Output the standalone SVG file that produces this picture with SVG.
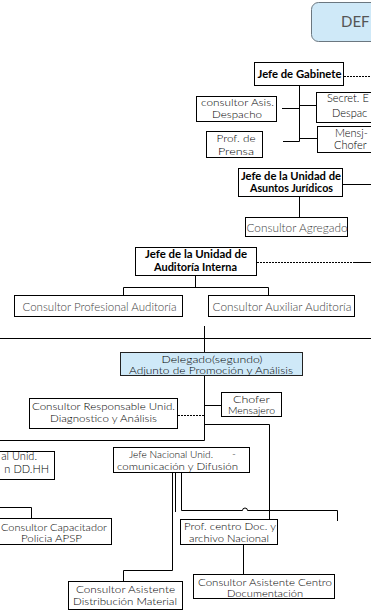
<svg xmlns="http://www.w3.org/2000/svg" width="371" height="614" viewBox="0 0 371 614">
<style>
  .box{fill:#fff;stroke:#000;stroke-width:1}
  .blue{fill:#cfe9f8;stroke:#222;stroke-width:1}
  .t{font-family:Lato,"Liberation Sans",sans-serif;font-size:10.5px;font-weight:300;fill:#000;text-anchor:middle}
  .g{fill:#444}
  .b{font-weight:bold;fill:#000}
  .k{fill:#000;font-weight:300}
  .ln{fill:none;stroke:#000;stroke-width:1}
  .dot{fill:none;stroke:#000;stroke-width:1;stroke-dasharray:2 1}
</style>
<rect width="371" height="614" fill="#fff"/>

<g id="connectors">
  <path class="dot" d="M344 76.5H371"/>
  <path class="ln" d="M299.5 86V141.5M282 108.5H299.5M299.5 105.5H316M283 141.5H299.5M299.5 138.5H317"/>
  <path class="ln" d="M343 184.5H371M299.5 197V217"/>
  <path class="dot" d="M257 262.5H355"/>
  <path class="ln" d="M355 262.5H371M195.5 276V287.5M123.5 287.5H268.5M123.5 287.5V295M268.5 287.5V295"/>
  <path class="ln" d="M0 338.5H371M204.5 326V352"/>
  <path class="ln" stroke-width="1.4" d="M204.5 376V440.5"/>
  <path class="dot" d="M178 415.5H204"/>
  <path class="ln" d="M204.5 405.5H221M204.5 424.5H269.5V519M0 440.5H204.5"/>
  <path class="ln" d="M172.5 473V570.5H123.5V581M175.5 473V512"/>
  <path class="ln" d="M181.5 473V510.5H242.5A2.5 2.5 0 0 1 247.5 510.5H337.5V521"/>
  <path class="ln" d="M0 507.5H31.5V518"/>
  <path class="ln" d="M243.5 545V574"/>
</g>

<g id="def">
  <rect x="311.5" y="2.5" width="80" height="39" rx="7" fill="#cfe9f8" stroke="#6b7780"/>
  <text class="t" x="341" y="27" style="font-size:15px;font-weight:400;text-anchor:start;fill:#555">DEF</text>
</g>

<g id="jefe-gabinete">
  <rect class="box" x="254.5" y="62.5" width="89" height="23"/>
  <text class="t b" x="299.5" y="78" textLength="84" lengthAdjust="spacingAndGlyphs">Jefe de Gabinete</text>
</g>

<g id="consultor-asis">
  <rect class="box" x="196.5" y="96.5" width="80" height="25"/>
  <text class="t" x="237.5" y="106" textLength="73" lengthAdjust="spacingAndGlyphs">consultor Asis.</text>
  <text class="t" x="237" y="118" textLength="50" lengthAdjust="spacingAndGlyphs">Despacho</text>
</g>

<g id="prof-prensa">
  <rect class="box" x="206.5" y="131.5" width="56" height="26"/>
  <text class="t" x="236" y="142" textLength="39" lengthAdjust="spacingAndGlyphs">Prof. de</text>
  <text class="t" x="236" y="155" textLength="36" lengthAdjust="spacingAndGlyphs">Prensa</text>
</g>

<g id="secret">
  <rect class="box" x="316.5" y="92.5" width="70" height="30"/>
  <text class="t" x="327" y="102" style="text-anchor:start;font-size:11px">Secret. E</text>
  <text class="t" x="332" y="117" style="text-anchor:start;font-size:11px">Despac</text>
</g>

<g id="mensj">
  <rect class="box" x="317.5" y="126.5" width="70" height="26"/>
  <text class="t" x="335" y="137" style="text-anchor:start;font-size:11px">Mensj-</text>
  <text class="t" x="334" y="149" style="text-anchor:start;font-size:11px">Chofer</text>
</g>

<g id="jefe-juridicos">
  <rect class="box" x="238.5" y="168.5" width="104" height="28"/>
  <text class="t b" x="291" y="180" textLength="100" lengthAdjust="spacingAndGlyphs">Jefe de la Unidad de</text>
  <text class="t b" x="291.5" y="192" textLength="83" lengthAdjust="spacingAndGlyphs">Asuntos Jurídicos</text>
</g>

<g id="consultor-agregado">
  <rect class="box" x="245.5" y="217.5" width="102" height="19"/>
  <text class="t g" x="297" y="232" style="font-size:11.5px" textLength="101" lengthAdjust="spacingAndGlyphs">Consultor Agregado</text>
</g>

<g id="jefe-auditoria">
  <rect class="box" x="135.5" y="247.5" width="121" height="28"/>
  <text class="t b" x="196" y="258" textLength="102" lengthAdjust="spacingAndGlyphs">Jefe de la Unidad de</text>
  <text class="t b" x="195.5" y="271" textLength="83" lengthAdjust="spacingAndGlyphs">Auditoría Interna</text>
</g>

<g id="consultor-profesional">
  <rect class="box" x="14.5" y="295.5" width="168" height="21"/>
  <text class="t g" x="99.5" y="311" style="font-size:11.5px" textLength="154" lengthAdjust="spacingAndGlyphs">Consultor Profesional Auditoría</text>
</g>

<g id="consultor-auxiliar">
  <rect class="box" x="208.5" y="295.5" width="146" height="21"/>
  <text class="t g" x="282" y="311" style="font-size:11.5px" textLength="139" lengthAdjust="spacingAndGlyphs">Consultor Auxiliar Auditoría</text>
</g>

<g id="delegado">
  <rect class="blue" x="120.5" y="352.5" width="182" height="23"/>
  <text class="t k" x="212" y="363" style="font-size:10px" textLength="101" lengthAdjust="spacingAndGlyphs">Delegado(segundo)</text>
  <text class="t k" x="211" y="373.5" style="font-size:10px" textLength="164" lengthAdjust="spacingAndGlyphs">Adjunto de Promoción y Análisis</text>
</g>

<g id="consultor-responsable">
  <rect class="box" x="29.5" y="398.5" width="148" height="30"/>
  <text class="t" x="103.5" y="410" textLength="143" lengthAdjust="spacingAndGlyphs">Consultor Responsable Unid.</text>
  <text class="t" x="103.5" y="422" textLength="107" lengthAdjust="spacingAndGlyphs">Diagnostico y Análisis</text>
</g>

<g id="chofer-mensajero">
  <rect class="box" x="221.5" y="392.5" width="60" height="24"/>
  <text class="t" x="251.5" y="403" textLength="37" lengthAdjust="spacingAndGlyphs">Chofer</text>
  <text class="t" x="251.5" y="414" textLength="47" lengthAdjust="spacingAndGlyphs">Mensajero</text>
</g>

<g id="nacional-ddhh">
  <rect class="box" x="-10.5" y="451.5" width="65" height="28"/>
  <text class="t" x="37" y="460" style="text-anchor:end;font-size:11px">al Unid.</text>
  <text class="t" x="49" y="473" style="text-anchor:end;font-size:11px">n DD.HH</text>
</g>

<g id="jefe-nacional">
  <rect class="box" x="113.5" y="447.5" width="136" height="25"/>
  <text class="t" x="171" y="458" textLength="84" lengthAdjust="spacingAndGlyphs">Jefe Nacional Unid.</text>
  <text class="t" x="234" y="457">-</text>
  <text class="t" x="177.5" y="470" textLength="121" lengthAdjust="spacingAndGlyphs">comunicación y Difusión</text>
</g>

<g id="consultor-capacitador">
  <rect class="box" x="-10.5" y="518.5" width="122" height="26"/>
  <text class="t" x="54" y="531" textLength="106" lengthAdjust="spacingAndGlyphs">Consultor Capacitador</text>
  <text class="t" x="51.5" y="542" textLength="61" lengthAdjust="spacingAndGlyphs">Policia APSP</text>
</g>

<g id="prof-centro">
  <rect class="box" x="180.5" y="519.5" width="97" height="25"/>
  <text class="t" x="230" y="530" textLength="92" lengthAdjust="spacingAndGlyphs">Prof. centro Doc. y</text>
  <text class="t" x="229" y="542" textLength="80" lengthAdjust="spacingAndGlyphs">archivo Nacional</text>
</g>

<g id="consultor-centro-doc">
  <rect class="box" x="193.5" y="574.5" width="141" height="24"/>
  <text class="t" x="265" y="586" textLength="134" lengthAdjust="spacingAndGlyphs">Consultor Asistente Centro</text>
  <text class="t" x="265" y="596.5" textLength="76" lengthAdjust="spacingAndGlyphs">Documentación</text>
</g>

<g id="consultor-distribucion">
  <rect class="box" x="68.5" y="581.5" width="114" height="28"/>
  <text class="t" x="125.5" y="593" textLength="99" lengthAdjust="spacingAndGlyphs">Consultor Asistente</text>
  <text class="t" x="125" y="605" textLength="104" lengthAdjust="spacingAndGlyphs">Distribución Material</text>
</g>
</svg>
